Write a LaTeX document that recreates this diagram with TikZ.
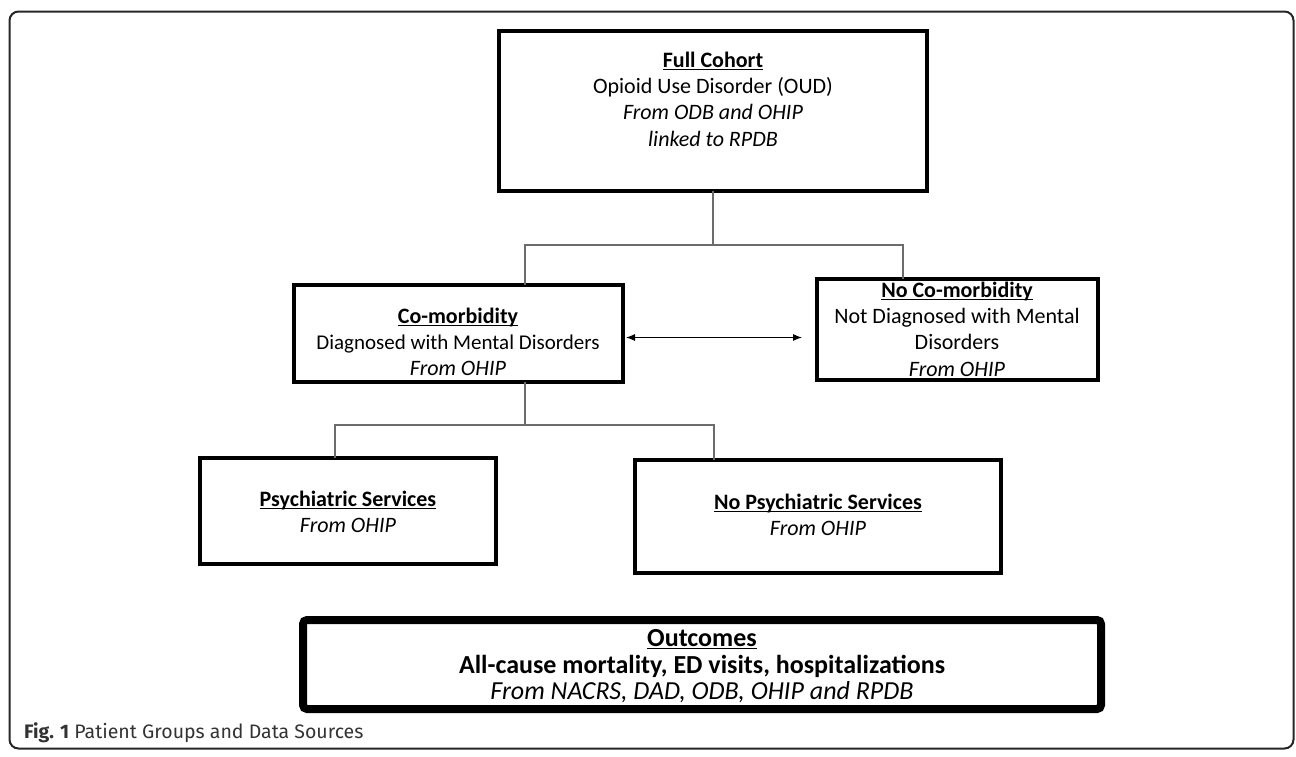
\documentclass[tikz,border=0pt]{standalone}
\usepackage{fontspec}
\setmainfont{Carlito}
\newfontfamily\capfont{Fira Sans}
\usetikzlibrary{arrows.meta,calc}
\newcommand{\hul}[1]{\setbox0\hbox{#1}\rlap{\rule[-2.8pt]{\wd0}{1.4pt}}\box0}
\begin{document}
\begin{tikzpicture}[x=1pt,y=-1pt,
  box/.style={draw=black,line width=4.5pt,inner sep=0pt,outer sep=0pt},
  txt/.style={align=center,font=\fontsize{22}{26.3}\selectfont,inner sep=0pt},
  otxt/.style={align=center,font=\fontsize{26}{28}\selectfont,inner sep=0pt},
  conn/.style={draw=gray!85!black,line width=1.2pt},
  dbl/.style={line width=1pt,{Latex[length=9pt,width=7pt]}-{Latex[length=9pt,width=7pt]}}]
\useasboundingbox (0,0) rectangle (1296,756);
% outer frame
\draw[line width=2pt,black!85,rounded corners=9pt] (9.5,11.5) rectangle (1293.5,748.5);

% boxes
\node[box,minimum width=428pt,minimum height=160pt] (top) at (713,111) {};
\node[box,minimum width=329pt,minimum height=97pt] (comorb) at (458.5,333.5) {};
\node[box,minimum width=281pt,minimum height=101pt] (nocomorb) at (957.5,329.5) {};
\node[box,minimum width=296pt,minimum height=106pt] (psych) at (348,511) {};
\node[box,minimum width=366pt,minimum height=113pt] (nopsych) at (818,516.5) {};
\node[box,line width=8pt,rounded corners=4pt,minimum width=798pt,minimum height=89pt] (out) at (702,664.5) {};

% texts
\node[txt] (top-t) at (713,99) {\textbf{\hul{Full Cohort}}\\Opioid Use Disorder (OUD)\\\textit{From ODB and OHIP}\\\textit{linked to RPDB}};
\node[txt] (comorb-t) at (458,342) {\textbf{\hul{Co-morbidity}}\\{\fontsize{21}{26.3}\selectfont Diagnosed with Mental Disorders}\\\textit{From OHIP}};
\node[txt] (nocomorb-t) at (957,329) {\textbf{\hul{No Co-morbidity}}\\Not Diagnosed with Mental\\Disorders\\\textit{From OHIP}};
\node[txt] (psych-t) at (348,512) {\textbf{\hul{Psychiatric Services}}\\\textit{From OHIP}};
\node[txt] (nopsych-t) at (818,515) {\textbf{\hul{No Psychiatric Services}}\\\textit{From OHIP}};
\node[otxt] (out-h) at (702,639) {\textbf{\hul{Outcomes}}};
\node[otxt] (out-b) at (702,666) {\textbf{All-cause mortality, ED visits, hospitalizations}};
\node[otxt] (out-s) at (702,692) {\textit{From NACRS, DAD, ODB, OHIP and RPDB}};

% connectors
\coordinate (b1L) at (525,245);
\coordinate (b1R) at (903,245);
\draw[conn] (top.south) -- (top.south |- b1L);
\draw[conn] (comorb.north -| b1L) -- (b1L) -- (b1R) -- (nocomorb.north -| b1R);
\coordinate (b2L) at (335,425);
\coordinate (b2R) at (714,425);
\draw[conn] (comorb.south -| b1L) -- (b1L |- b2L);
\draw[conn] (psych.north -| b2L) -- (b2L) -- (b2R) -- (nopsych.north -| b2R);

% double arrow
\draw[dbl] ($(comorb.east)+(3,4)$) -- ($(nocomorb.west |- comorb.east)+(-15,4)$);

% caption
\node[anchor=west,inner sep=0pt,font=\capfont\fontsize{19.5}{22}\selectfont,text=black!80] (cap) at (24,733) {\textbf{Fig. 1} Patient Groups and Data Sources};
\end{tikzpicture}
\end{document}
